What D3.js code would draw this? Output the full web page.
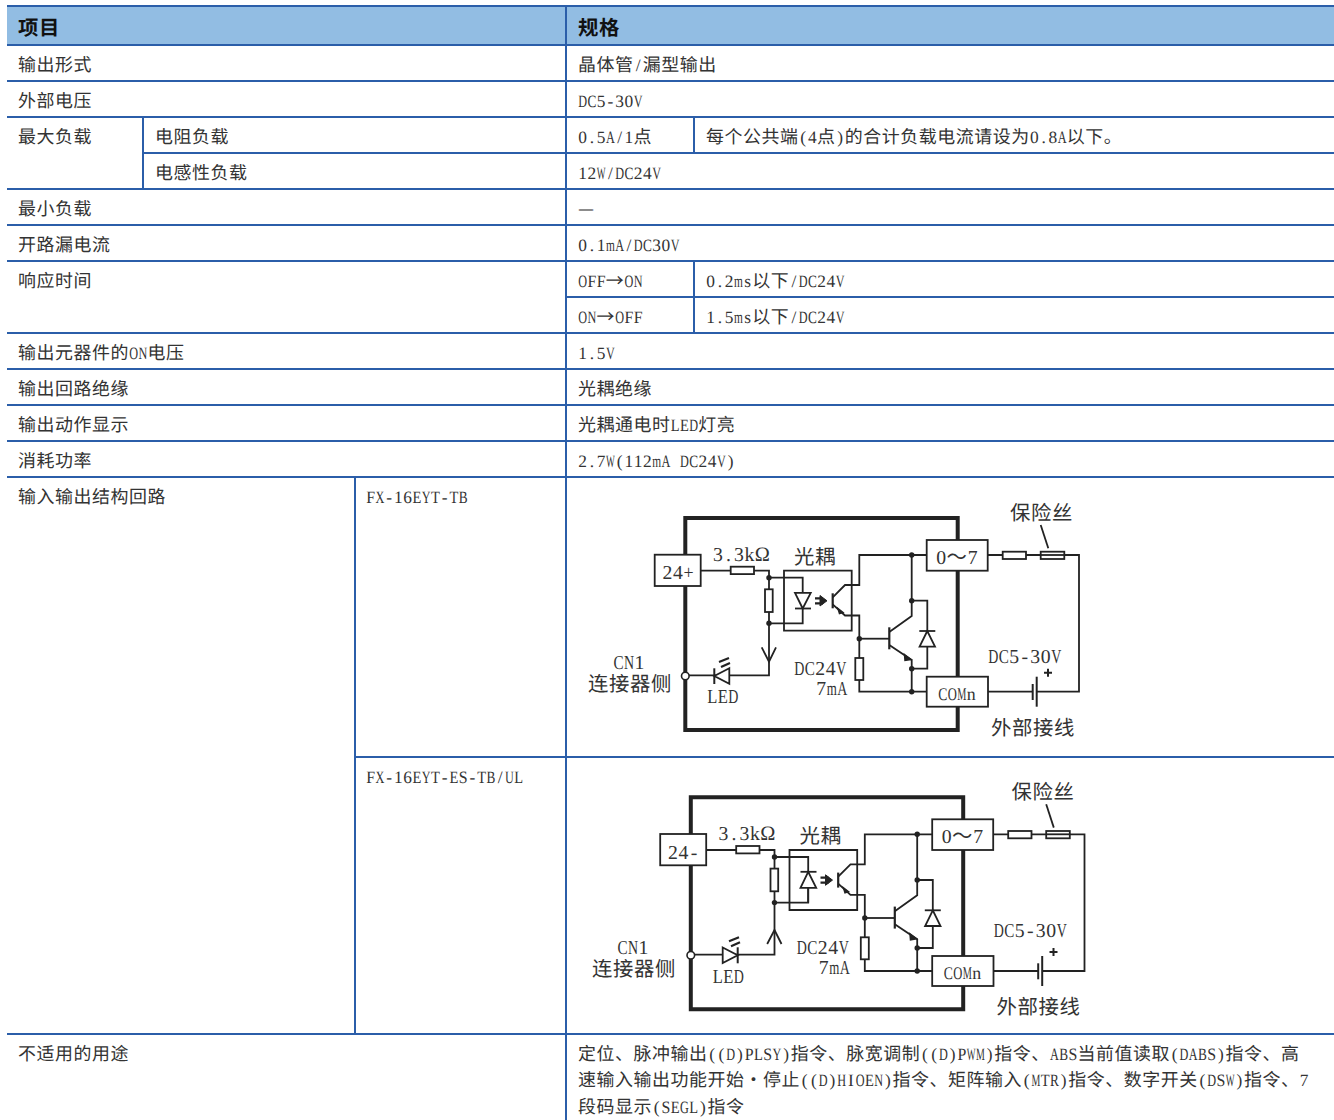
<!DOCTYPE html>
<html>
<head>
<meta charset="UTF-8">
<title>FX-16EYT</title>
<script src="https://d3js.org/d3.v7.min.js"></script>
<style>
html, body { margin: 0; padding: 0; background: #fff; }
svg { display: block; }
text { text-rendering: geometricPrecision; }
</style>
</head>
<body>
<script>
// table content, row by row (row 0 is the first row under the header)
var headerLabels = ["项目", "规格"];
var itemLabels = ["输出形式", "外部电压", "最大负载", "", "最小负载", "开路漏电流", "响应时间", "",
    "输出元器件的ON电压", "输出回路绝缘", "输出动作显示", "消耗功率", "输入输出结构回路", "", "不适用的用途"];
var subItemLabels = ["", "", "电阻负载", "电感性负载", "", "", "", "", "", "", "", "", "FX-16EYT-TB", "FX-16EYT-ES-TB/UL", ""];
var specLabels = ["晶体管/漏型输出", "DC5-30V", "0.5A/1点", "12W/DC24V", "—", "0.1mA/DC30V", "OFF→ON", "ON→OFF",
    "1.5V", "光耦绝缘", "光耦通电时LED灯亮", "2.7W(112mA DC24V)", "", "", ""];
var subSpecLabels = ["", "", "每个公共端(4点)的合计负载电流请设为0.8A以下。", "", "", "", "0.2ms以下/DC24V", "1.5ms以下/DC24V",
    "", "", "", "", "", "", ""];
var usageLines = ["定位、脉冲输出((D)PLSY)指令、脉宽调制((D)PWM)指令、ABS当前值读取(DABS)指令、高",
    "速输入输出功能开始・停止((D)HIOEN)指令、矩阵输入(MTR)指令、数字开关(DSW)指令、7",
    "段码显示(SEGL)指令"];

// layout
var W = 1334, H = 1120;
var rowEdges = [45, 81, 117, 153, 189, 225, 261, 297, 333, 369, 405, 441, 477, 757, 1034, 1120];
var blue = "#2b5ea9", headFill = "#92bde3", ink = "#333";
var rowIdx = d3.range(rowEdges.length);
var yRow = d3.scaleOrdinal().domain(rowIdx).range(rowEdges);

var svg = d3.select("body").append("svg").attr("width", W).attr("height", H);
var ctx = document.createElement("canvas").getContext("2d");

// half width latin + full width CJK, every char in its own cell like the original mincho font
function put_text(parent, str, x, y, em, opt){
    opt = opt || {};
    var cell = em / 2;
    var chars = Array.from(str);
    var isWide = function(c){ return c.charCodeAt(0) > 127; };
    var total = d3.sum(chars, function(c){ return isWide(c) ? em : cell; });
    var cx = opt.center ? x - total / 2 : x;
    var latinSize = em * 0.94;
    ctx.font = latinSize + 'px "Liberation Serif"';
    var t = parent.append("text")
        .attr("y", y)
        .attr("font-size", em * 0.97)
        .attr("font-weight", opt.bold ? 700 : 400)
        .attr("font-family", '"Noto Sans CJK SC"')
        .attr("fill", opt.fill || ink);
    chars.forEach(function(c){
        var s = t.append("tspan").text(c);
        if(isWide(c)){
            if(c == "Ω"){
                s.attr("font-family", '"Liberation Serif"');
            }
            s.attr("x", cx);
            cx += em;
            return;
        }
        s.attr("font-family", '"Liberation Serif"')
         .attr("font-size", latinSize);
        var w = ctx.measureText(c).width;
        if(c == " "){
            s.attr("x", cx);
        }else if(w > cell - 0.4){
            s.attr("x", cx + 0.2)
             .attr("textLength", cell - 0.4)
             .attr("lengthAdjust", "spacingAndGlyphs");
        }else{
            s.attr("x", cx + (cell - w) / 2);
        }
        cx += cell;
    });
    return t;
}

// header band
svg.append("rect").attr("x", 7).attr("y", yRow(0) - 39).attr("width", W - 7).attr("height", 39).attr("fill", headFill);
var colX = {item: 18, sub1: 155, sub2: 366, spec: 578, subSpec: 706};
put_text(svg, headerLabels[0], colX.item, 35, 21, {bold: true, fill: "#111"});
put_text(svg, headerLabels[1], colX.spec, 35, 21, {bold: true, fill: "#111"});

// cells
var EM = 18.5, BASE = 25.5;
itemLabels.forEach(function(d, i){
    if(d) put_text(svg, d, colX.item, yRow(i) + BASE, EM);
});
subItemLabels.forEach(function(d, i){
    if(d) put_text(svg, d, i < 6 ? colX.sub1 : colX.sub2, yRow(i) + BASE, EM);
});
specLabels.forEach(function(d, i){
    if(d) put_text(svg, d, colX.spec, yRow(i) + BASE, EM);
});
subSpecLabels.forEach(function(d, i){
    if(d) put_text(svg, d, colX.subSpec, yRow(i) + BASE, EM);
});
usageLines.forEach(function(d, i){
    put_text(svg, d, colX.spec, yRow(14) + BASE + i * 26.5, EM);
});

// grid lines
var hLines = [
    {y: 6, x1: 7}, {y: yRow(0), x1: 7}, {y: yRow(1), x1: 7}, {y: yRow(2), x1: 7},
    {y: yRow(3), x1: 143}, {y: yRow(4), x1: 7}, {y: yRow(5), x1: 7}, {y: yRow(6), x1: 7},
    {y: yRow(7), x1: 566}, {y: yRow(8), x1: 7}, {y: yRow(9), x1: 7}, {y: yRow(10), x1: 7},
    {y: yRow(11), x1: 7}, {y: yRow(12), x1: 7}, {y: yRow(13), x1: 355}, {y: yRow(14), x1: 7}
];
var vLines = [
    {x: 566, y1: 6, y2: H},
    {x: 143, y1: yRow(2), y2: yRow(4)},
    {x: 694, y1: yRow(2), y2: yRow(3)},
    {x: 694, y1: yRow(6), y2: yRow(8)},
    {x: 355, y1: yRow(12), y2: yRow(14)}
];
svg.selectAll(".h").data(hLines).enter().append("line")
    .attr("x1", function(d){ return d.x1; }).attr("x2", W)
    .attr("y1", function(d){ return d.y; }).attr("y2", function(d){ return d.y; })
    .attr("stroke", blue).attr("stroke-width", 2);
svg.selectAll(".v").data(vLines).enter().append("line")
    .attr("x1", function(d){ return d.x; }).attr("x2", function(d){ return d.x; })
    .attr("y1", function(d){ return d.y1; }).attr("y2", function(d){ return d.y2; })
    .attr("stroke", blue).attr("stroke-width", 2);

// circuit, local coordinates are those of the upper drawing
function draw_circuit(dx, dy, o){
    var g = svg.append("g").attr("transform", "translate(" + dx + "," + dy + ")");
    var wire = "#222";
    function path(d, w, fill){
        return g.append("path").attr("d", d).attr("fill", fill || "none")
            .attr("stroke", wire).attr("stroke-width", w || 1.8);
    }
    function box(x, y, w, h, sw){
        g.append("rect").attr("x", x).attr("y", y).attr("width", w).attr("height", h)
            .attr("fill", "#fff").attr("stroke", wire).attr("stroke-width", sw || 1.8);
    }
    function dot(x, y){
        g.append("circle").attr("cx", x).attr("cy", y).attr("r", 2.7).attr("fill", wire);
    }

    // module outline
    path("M685.3,518H957.7V730H685.3Z", 4);

    // input side
    path("M700,570.7H769V675.3H685");
    box(730.7, 566.7, 23.3, 7.4);
    box(765, 589.3, 7.7, 22.7);
    dot(769, 577.7); dot(769, 623.3);

    // coupler
    path("M784,570.7H851.7V630.7H784Z");
    path("M769,577.7H802.7V623.3H769");
    if(o.reverse){
        path("M795,592.5H811", 1.8);
        path("M802.7,592.5L795,608.5H810.7Z", 1.8, "#fff");
        path("M802.7,608.5V623.3");
    }else{
        path("M802.7,608.5L795,592.8H810.7Z", 1.8, "#fff");
        path("M795,608.5H811", 1.8);
    }
    path("M815,598.3H823M815,603.3H823", 2.2);
    path("M820,595.5L827,600.8L820,606Z", 1, wire);
    path("M832.7,593.3V608.3", 2.2);
    path("M832.7,597.3L845,585H859.3V555H926.7");
    path("M832.7,604.3L845,615.5H859.3V691.7H926.7");
    path("M838,608.5L843,612.5L839.5,613.5Z", 1.5, wire);
    box(855.3, 658, 8, 22);
    dot(859.3, 638.7);

    // output transistor
    path("M859.3,638.7H889.3");
    path("M889.3,627.3V649.3", 2.2);
    path("M889.3,632L911.7,616V555");
    path("M889.3,645L911.7,660V691.7");
    path("M904.5,654.5L911,659.5L905,660.5Z", 1.5, wire);
    path("M911.7,600.7H927.3V668.7H911.7");
    path("M919.3,631H935.3", 1.8);
    path("M927.3,631L919.6,646.7H935Z", 1.8, "#fff");
    dot(911.7, 555); dot(911.7, 600.7); dot(911.7, 668.7); dot(911.7, 691.7);

    // outside wiring
    path("M988,555H1079V691.7H1036.7");
    path("M988,691.7H1032.7");
    box(1002.7, 551.7, 23.3, 7.3);
    box(1040.7, 551.7, 23.6, 7.3);
    path("M1041,555H1064");
    path("M1040.7,525L1048.3,548.3");
    path("M1036.7,676.7V706.7", 2);
    path("M1032.7,684V700", 2);
    path("M1044,672.7H1052M1048,668.7V676.7", 2);

    // terminals
    box(654.7, 554.7, 46, 31.3);
    box(926.7, 540, 61, 30.7);
    box(926.7, 676.7, 61.3, 30);
    g.append("circle").attr("cx", 685.3).attr("cy", 676).attr("r", 3.8)
        .attr("fill", "#fff").attr("stroke", wire).attr("stroke-width", 1.6);

    // arrow + led
    if(o.reverse){
        path("M761.7,664.7L769,650.7L776,664.7", 1.8);
        path("M732.2,668V684", 2);
        path("M717.2,668.2L732.2,676L717.2,683.8Z", 1.8, "#fff");
    }else{
        path("M761.7,647.3L769,661.7L776,647.3", 1.8);
        path("M714.3,668.3V684", 2);
        path("M729.3,668.2L714.3,676L729.3,683.8Z", 1.8, "#fff");
    }
    var rx = o.reverse ? 4.5 : 0;
    path("M" + (719 + rx) + ",662L" + (729 + rx) + ",658M" + (721 + rx) + ",667L" + (730 + rx) + ",663", 2.2);

    // labels
    var big = 21;
    put_text(g, o.inLabel, 678, 579.3, big, {center: true});
    put_text(g, "3.3kΩ", 712.7, 560.7, big);
    put_text(g, "光耦", 794, 564, big);
    put_text(g, "0～7", 957, 564, big, {center: true});
    put_text(g, "COMn", 957, 700, 19, {center: true});
    put_text(g, "保险丝", 1010 + o.fuseDx, 520, big);
    put_text(g, "CN1", 629 + o.cnDx, 669 + o.cnDy, big, {center: true});
    put_text(g, "连接器侧", 588 + o.cnDx, 691 + o.cnDy, big);
    put_text(g, "LED", 707, 703.3, big);
    put_text(g, "DC24V", 794 + o.dcDx, 675, big);
    put_text(g, "7mA", 816 + o.dcDx, 695, big);
    put_text(g, "DC5-30V", 988, o.supplyY, big);
    put_text(g, "外部接线", 991, 735, big);
}

draw_circuit(0, 0, {inLabel: "24+", reverse: false, supplyY: 662.7, fuseDx: 0, cnDx: 0, cnDy: 0, dcDx: 0});
draw_circuit(5.5, 279.3, {inLabel: "24-", reverse: true, supplyY: 657.4, fuseDx: -4, cnDx: -1.5, cnDy: 6, dcDx: -3});
</script>
</body>
</html>
